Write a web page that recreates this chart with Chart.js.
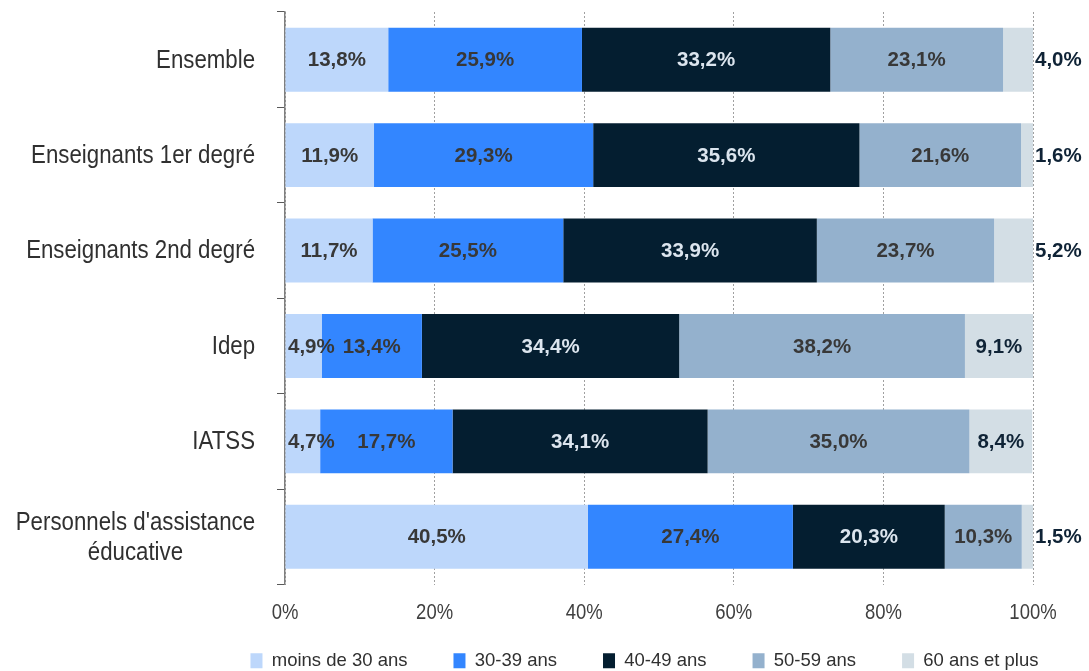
<!DOCTYPE html>
<html>
<head>
<meta charset="utf-8">
<script src="https://cdn.jsdelivr.net/npm/chart.js@4.4.1/dist/chart.umd.min.js"></script>
<style>
html,body{margin:0;padding:0;background:#fff;}
#wrap{width:1089px;height:671px;position:relative;}
</style>
</head>
<body>
<div id="wrap"><canvas id="c" width="1089" height="671"></canvas></div>
<script>
const categories = ["Ensemble", "Enseignants 1er degré", "Enseignants 2nd degré", "Idep", "IATSS", ["Personnels d'assistance", "éducative"]];
const seriesNames = ["moins de 30 ans", "30-39 ans", "40-49 ans", "50-59 ans", "60 ans et plus"];
const moins30 = [13.8, 11.9, 11.7, 4.9, 4.7, 40.5];
const a30_39 = [25.9, 29.3, 25.5, 13.4, 17.7, 27.4];
const a40_49 = [33.2, 35.6, 33.9, 34.4, 34.1, 20.3];
const a50_59 = [23.1, 21.6, 23.7, 38.2, 35.0, 10.3];
const a60plus = [4.0, 1.6, 5.2, 9.1, 8.4, 1.5];
const xTickValues = [0, 20, 40, 60, 80, 100];
const xTickLabels = ["0%", "20%", "40%", "60%", "80%", "100%"];

const colors = ["#BDD7FB", "#3386FF", "#041E30", "#94B1CD", "#D3DEE5"];
const labelColors = ["#383838", "#383838", "#DCE5EE", "#383838", "#0F2336"];
const SANS = "'Liberation Sans', Arial, sans-serif";

const seriesData = [moins30, a30_39, a40_49, a50_59, a60plus];

// value labels on each segment
const labelPlugin = {
  id: 'segLabels',
  afterDatasetsDraw(chart) {
    const ctx = chart.ctx;
    const area = chart.chartArea;
    ctx.save();
    ctx.font = "bold 20.5px " + SANS;
    ctx.textBaseline = 'middle';
    ctx.textAlign = 'left';
    chart.data.datasets.forEach((ds, di) => {
      const meta = chart.getDatasetMeta(di);
      meta.data.forEach((bar, i) => {
        const v = ds.data[i];
        const txt = v.toFixed(1).replace('.', ',') + '%';
        const w = ctx.measureText(txt).width;
        const left = Math.min(bar.x, bar.base);
        const right = Math.max(bar.x, bar.base);
        let x;
        if (di === seriesData.length - 1 && w > right - left) {
          x = right + 2;
          if (x + w > chart.width - 4) x = chart.width - 4 - w;
        } else {
          x = (left + right) / 2 - w / 2;
          if (x < area.left + 3) x = area.left + 3;
        }
        ctx.fillStyle = labelColors[di];
        ctx.fillText(txt, x, bar.y + 1);
      });
    });
    ctx.restore();
  }
};

// category labels (multi-line centred block, right-aligned to axis) and x tick labels
const axisTextPlugin = {
  id: 'axisText',
  afterDraw(chart) {
    const ctx = chart.ctx;
    const ys = chart.scales.y;
    const xs = chart.scales.x;
    const area = chart.chartArea;
    ctx.save();
    const sx = 0.89;
    ctx.font = "25px " + SANS;
    ctx.fillStyle = "#303030";
    ctx.textBaseline = 'middle';
    ctx.textAlign = 'center';
    const rightEdge = area.left - 30;
    const lh = 30;
    chart.data.labels.forEach((lab, i) => {
      const lines = Array.isArray(lab) ? lab : [lab];
      const maxW = Math.max(...lines.map(l => ctx.measureText(l).width)) * sx;
      const cx = rightEdge - maxW / 2;
      const y = ys.getPixelForTick(i) + 1;
      const y0 = y - (lines.length - 1) * lh / 2;
      lines.forEach((l, k) => {
        ctx.save();
        ctx.translate(cx, y0 + k * lh);
        ctx.scale(sx, 1);
        ctx.fillText(l, 0, 0);
        ctx.restore();
      });
    });
    const tx = 0.84;
    ctx.font = "22px " + SANS;
    ctx.fillStyle = "#404040";
    xTickValues.forEach((v, i) => {
      const px = xs.getPixelForValue(v);
      ctx.save();
      ctx.translate(px, area.bottom + 28);
      ctx.scale(tx, 1);
      ctx.fillText(xTickLabels[i], 0, 0);
      ctx.restore();
    });
    ctx.restore();
  }
};

new Chart(document.getElementById('c'), {
  type: 'bar',
  data: {
    labels: categories,
    datasets: seriesData.map((d, i) => ({
      label: seriesNames[i],
      data: d,
      backgroundColor: colors[i],
      borderWidth: 0,
      categoryPercentage: 1,
      barPercentage: 0.67
    }))
  },
  options: {
    indexAxis: 'y',
    responsive: false,
    animation: false,
    devicePixelRatio: 1,
    layout: { padding: { top: 12, right: 0, left: 200, bottom: -9 } },
    scales: {
      x: {
        stacked: true,
        min: 0,
        max: 100,
        ticks: { stepSize: 20, display: false },
        grid: {
          color: '#a0a0a0',
          lineWidth: 1,
          drawTicks: false
        },
        border: { display: false, dash: [2, 2] },
        afterFit: s => { s.height = 21; }
      },
      y: {
        stacked: true,
        ticks: { display: false },
        grid: {
          offset: true,
          drawOnChartArea: false,
          drawTicks: true,
          tickLength: 8,
          color: '#595959'
        },
        border: { display: true, color: '#7f7f7f', width: 1.5 },
        afterFit: s => { s.width = 85; }
      },
      rightSpace: {
        type: 'linear',
        position: 'right',
        display: true,
        ticks: { display: false },
        grid: { display: false, drawTicks: false },
        border: { display: false },
        afterFit: s => { s.width = 56; }
      }
    },
    plugins: {
      legend: {
        position: 'bottom',
        labels: {
          font: { family: SANS, size: 18.5 },
          color: '#303030',
          boxWidth: 12,
          boxHeight: 15,
          padding: 46
        }
      },
      tooltip: { enabled: false }
    }
  },
  plugins: [labelPlugin, axisTextPlugin]
});
</script>
</body>
</html>
